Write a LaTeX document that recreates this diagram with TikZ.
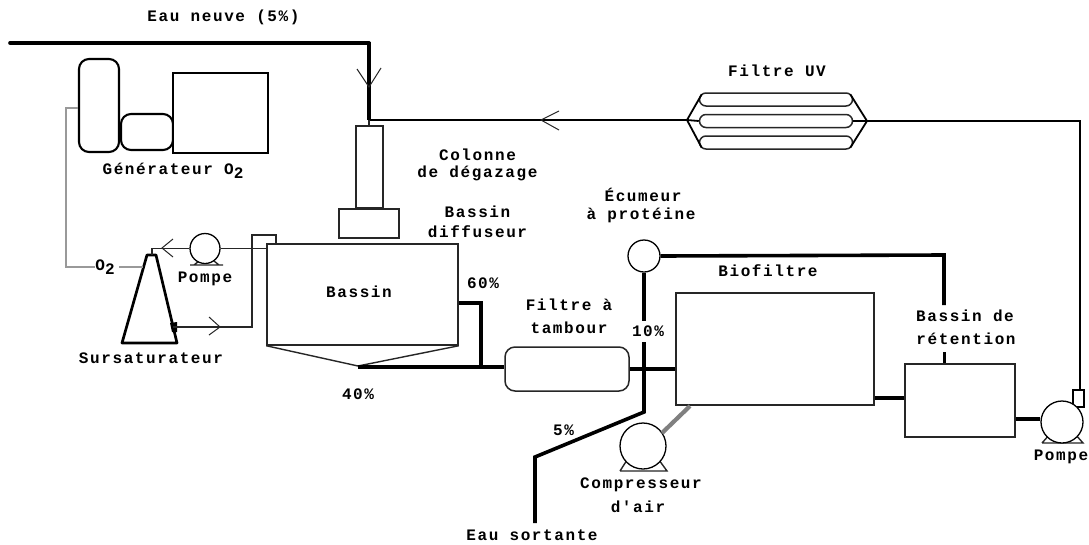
\documentclass[tikz,border=0pt]{standalone}
\usepackage{fontspec}
\usetikzlibrary{calc}
\newfontfamily\lab[LetterSpace=10,BoldFont={Liberation Mono Bold}]{Liberation Mono}
\newcommand{\subtwo}{\raisebox{-3.5pt}{2}}
\tikzset{
  txt/.style={font=\lab\bfseries\fontsize{16}{16}\selectfont, inner sep=0pt, text=black},
  box/.style={draw=black!85, line width=1.5pt, rectangle, inner sep=0pt, fill=white},
  caps/.style={box, rounded corners=#1},
  pumpc/.style={draw=black, line width=1.3pt, circle, inner sep=0pt, fill=white},
  thin pipe/.style={draw=black!85, line width=1.4pt},
  mid pipe/.style={draw=black, line width=2.4pt},
  thick pipe/.style={draw=black, line width=3.6pt},
  gas pipe/.style={draw=black!40, line width=1.2pt},
  air pipe/.style={draw=black!50, line width=4.2pt},
  head/.style={draw=black!85, line width=1pt}
}
\begin{document}
\begin{tikzpicture}[x=1pt,y=-1pt]
\useasboundingbox (0,0) rectangle (1089,544);
\fill[white] (0,0) rectangle (1089,544);

% --- boxes
\node[box, minimum width=27pt, minimum height=82pt] (col) at (369.5,167) {};
\node[box, minimum width=60pt, minimum height=29pt] (colbase) at (369,223.5) {};
\node[box, minimum width=191pt, minimum height=101pt] (bassin) at (362.5,294.5) {};
\node[caps=10pt, minimum width=124pt, minimum height=44pt] (tambour) at (567,369) {};
\node[box, minimum width=198pt, minimum height=112pt] (bio) at (775,349) {};
\node[box, minimum width=110pt, minimum height=73pt] (ret) at (960,400.5) {};
\node[caps=10pt, draw=black, line width=2.1pt, minimum width=40pt, minimum height=93pt] (g1) at (99,105.5) {};
\node[caps=10pt, draw=black, line width=2.1pt, minimum width=52pt, minimum height=36pt] (g2) at (147,132) {};
\node[box, draw=black, line width=2.1pt, minimum width=95pt, minimum height=80pt] (g3) at (220.5,113) {};

% --- pipes
\coordinate (in) at (10,43);
\coordinate (jn) at (369,43);
\coordinate (tee) at (369,120);
\coordinate (uvl) at (687,120);
\coordinate (uvr) at (867,121);
\coordinate (cr) at (1080,121);
\coordinate (pumpin) at (1080,390);
\draw[thick pipe, line cap=round] (in) -- (jn);
\draw[draw=black, line width=3.8pt] (369,42) -- (tee);
\draw[mid pipe] (367.5,120) -- (uvl);
\draw[mid pipe] (uvr) -- (cr) -- (pumpin);
\draw[thin pipe] (tee) -- (col.north -| tee);

% UV filter
\node[caps=6.5pt, minimum width=153pt, minimum height=13pt] (uv1) at (776,99.5) {};
\node[caps=6.5pt, minimum width=153pt, minimum height=13pt] (uv2) at (776,121) {};
\node[caps=6.5pt, minimum width=153pt, minimum height=13pt] (uv3) at (776,142.5) {};
\draw[mid pipe, line width=1.8pt] ($(uv1.north west)+(3,2)$) -- (uvl) -- ($(uv3.south west)+(3,-2)$);
\draw[mid pipe, line width=1.8pt] ($(uv1.north east)+(-3,2)$) -- (uvr) -- ($(uv3.south east)+(-3,-2)$);
\draw[mid pipe, line width=1.8pt] (uv2.east) -- (uvr);
\draw[mid pipe, line width=1.8pt] (uv2.west) -- (uvl);

% Pumps
\coordinate (p1a) at (190,265); \coordinate (p1b) at (223,265);
\draw[thin pipe] (p1a) -- (p1b) (194,265) -- (199,261) (219,265) -- (214,261);
\node[pumpc, minimum size=30pt] (p1) at (205,248.5) {};

\coordinate (p2a) at (1042,443); \coordinate (p2b) at (1083,443);
\draw[thin pipe] (p2a) -- (p2b) -- (1075,434) (p2a) -- (1050,434);
\node[box, draw=black, minimum width=11pt, minimum height=17pt] (p2n) at (1078.5,398.5) {};
\node[pumpc, minimum size=42pt] (p2) at (1062,422) {};

\coordinate (p3a) at (620,471); \coordinate (p3b) at (667,471);
\draw[thin pipe] (p3a) -- (p3b) -- (659,460) (p3a) -- (627,460);
\node[pumpc, minimum size=46pt] (p3) at (643,446) {};

% Sursaturateur
\coordinate (st1) at (147,255); \coordinate (st2) at (156,255);
\coordinate (sb1) at (122,343); \coordinate (sb2) at (177,343);
\draw[draw=black, line width=2.7pt, line join=round] (sb1) -- (st1) -- (st2) -- (sb2) -- cycle;
\coordinate (sout) at (152,255);
\coordinate (sin) at (173,327);
\fill[black] (170,323) -- (177,322) -- (177,332) -- (172,332) -- cycle;

% Recirculation
\draw[thin pipe] (sout) |- (p1.west);
\draw[thin pipe] (p1.east) -- (bassin.west |- p1.east);
\coordinate (u1) at (252,327); \coordinate (u2) at (252,235); \coordinate (u3) at (276,235);
\draw[thin pipe] (sin) -- (u1) -- (u2) -- (u3) -- (u3 |- bassin.north);

% Gas line
\node[txt] (o2) at (105,267) {O\subtwo};
\coordinate (gc) at (66,108);
\draw[gas pipe] (g1.west |- gc) -- (gc) -- (gc |- o2) -- (o2.west);
\draw[gas pipe] (119,267) -- (143,267);

% Bassin outlets
\coordinate (cone) at (358,366);
\draw[thin pipe] (bassin.south west) -- (cone) -- (bassin.south east);
\coordinate (ov) at (481,303);
\coordinate (ovb) at (481,367);
\draw[thick pipe, line join=miter] (bassin.east |- ov) -- (ov) -- (ovb);
\draw[thick pipe] (cone |- ovb) -- (ovb -| tambour.west);
\draw[thick pipe] (tambour.east) -- (bio.west |- tambour.east);

% Ecumeur and waste
\node[draw=black, line width=1.3pt, circle, inner sep=0pt, fill=white, minimum size=32pt] (ecu) at (644,256) {};
\node[txt] (t10) at (648,331) {10\%};
\coordinate (ww0) at (644,342);
\coordinate (ww1) at (644,412); \coordinate (ww2) at (535,457); \coordinate (ww3) at (535,523);
\draw[thick pipe] (ecu.south) -- (644,321);
\draw[thick pipe, line join=miter] (ww0) -- (ww1) -- (ww2) -- (ww3);
\coordinate (ecr) at (944,255);
\draw[thick pipe, line join=miter] (ecu.east) -- (ecr) -- (944,305);
\coordinate (st) at (944.5,352);
\draw[thick pipe] (st) -- (st |- ret.north);

% Links
\coordinate (l1) at (890,398);
\coordinate (l2) at (1030,419);
\draw[draw=black, line width=4pt] (bio.east |- l1) -- (ret.west |- l1);
\draw[draw=black, line width=3.6pt] (ret.east |- l2) -- (p2.west |- l2);
\coordinate (air1) at (662,433);
\coordinate (air2) at (690,406);
\draw[air pipe] (air1) -- (air2);

% Open arrowheads
\draw[head] (357,69) -- (369,87) -- (381,68);
\draw[head] (559,111) -- (541,120) -- (559,130);
\draw[head] (173,239) -- (162,248) -- (173,257);
\draw[head] (209,317) -- (220,327) -- (209,335);

% Labels
\node[txt] (a) at (223.5,17) {Eau neuve (5\%)};
\node[txt] (b) at (173,171) {Générateur O\subtwo};
\node[txt] (c1) at (477.5,155) {Colonne};
\node[txt] (c2) at (477.5,173) {de dégazage};
\node[txt] (e1) at (643,195) {Écumeur};
\node[txt] (e2) at (641,215) {à protéine};
\node[txt] (d1) at (477.5,212) {Bassin};
\node[txt] (d2) at (477.5,232) {diffuseur};
\node[txt] (f) at (777,71) {Filtre UV};
\node[txt] (p) at (205,279) {Pompe};
\node[txt] (bs) at (359,292) {Bassin};
\node[txt] (sur) at (151,358) {Sursaturateur};
\node[txt] (t60) at (483,283) {60\%};
\node[txt] (t40) at (358,394) {40\%};
\node[txt] (ft1) at (569,305) {Filtre à};
\node[txt] (ft2) at (569,328) {tambour};
\node[txt] (bf) at (768,271) {Biofiltre};
\node[txt] (r1) at (965,316) {Bassin de};
\node[txt] (r2) at (966,339) {rétention};
\node[txt] (pp) at (1061,457) {Pompe};
\node[txt] (t5) at (563.5,430) {5\%};
\node[txt] (ca) at (641,485) {Compresseur};
\node[txt] (cb) at (638,507) {d'air};
\node[txt] (es) at (532,535) {Eau sortante};
\end{tikzpicture}
\end{document}
